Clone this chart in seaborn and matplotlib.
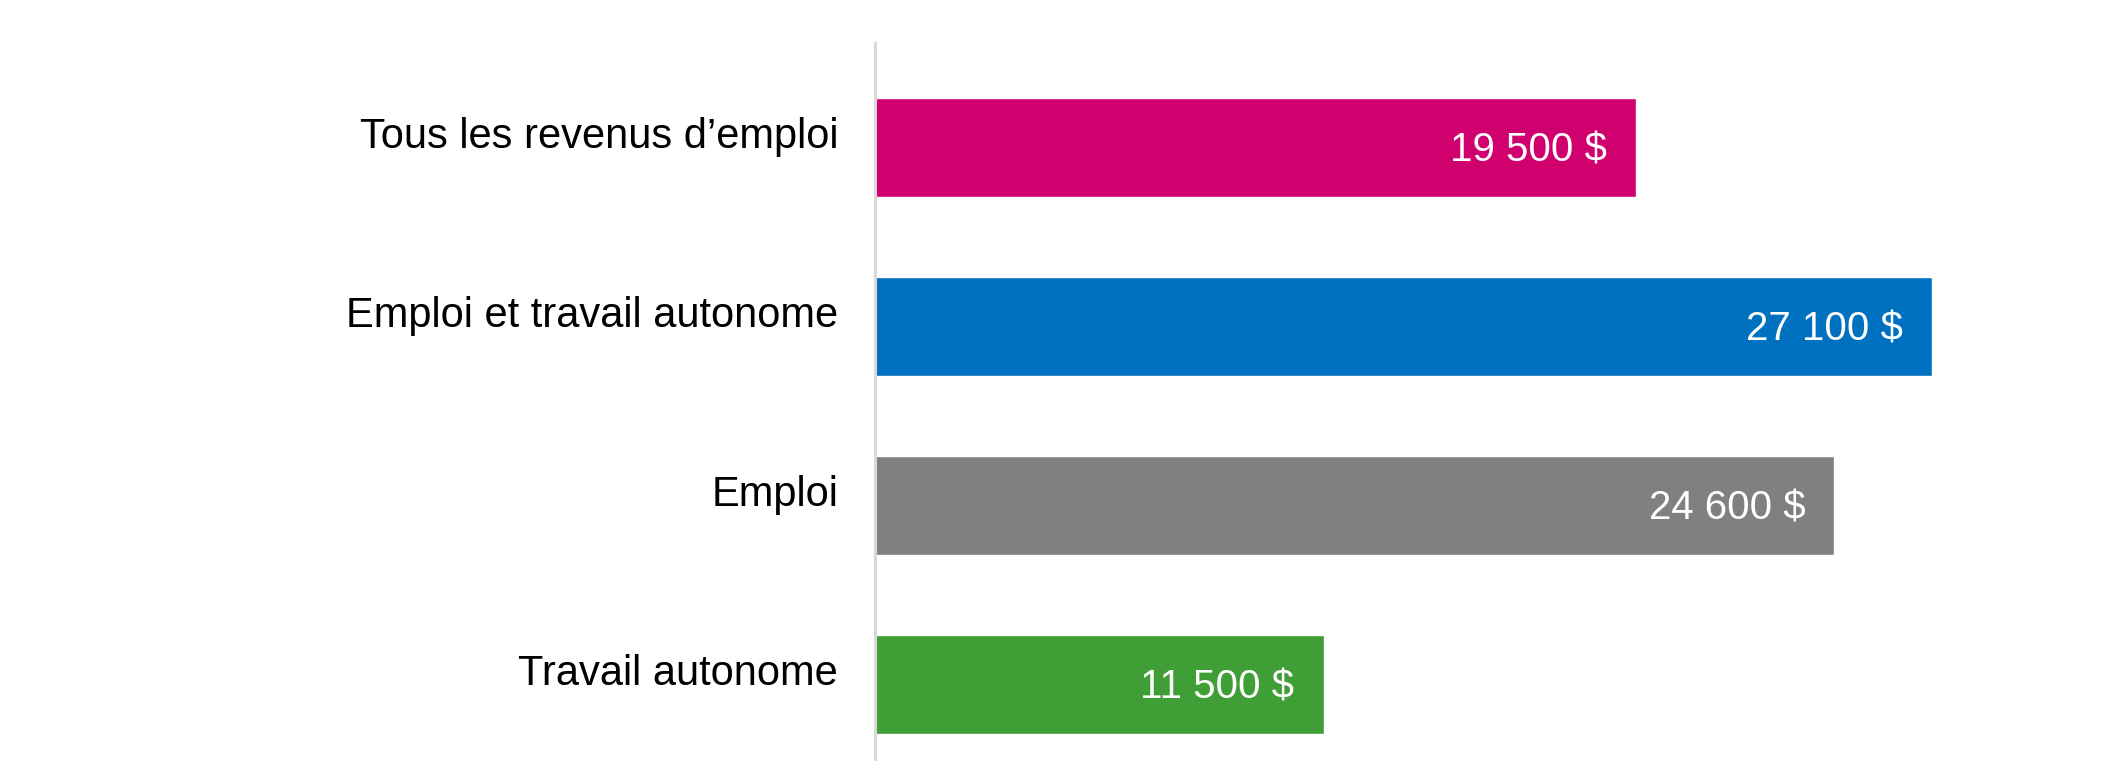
"""
Horizontal bar chart of median employment income by income type.
"""
import pandas as pd
import seaborn as sns
import matplotlib.pyplot as plt

# Data
CATEGORIES = [
    "Tous les revenus d’emploi",
    "Emploi et travail autonome",
    "Emploi",
    "Travail autonome",
]
VALUES = [19500, 27100, 24600, 11500]
COLORS = ["#D0006F", "#0070C0", "#808080", "#3F9E36"]

PLOT_CONFIG = {
    "save_as": "out.png",
    "font": ["Liberation Sans", "DejaVu Sans"],
}

# bars sit slightly below the centre of their category band (Excel style)
BAR_OFFSET = 0.084


def fmt_dollars(v):
    return "{:,}".format(v).replace(",", " ") + " $"


def barplot(df, save=None):
    sns.set_style("white")
    plt.rcParams["font.family"] = PLOT_CONFIG["font"]

    fig = plt.figure(figsize=(21.14, 7.83), dpi=100)
    ax = fig.add_axes([0.4139, 0.0307, 0.5535, 0.9144])

    sns.barplot(
        data=df,
        x="value",
        y="category",
        hue="category",
        palette=COLORS,
        orient="h",
        width=0.553,
        legend=False,
        saturation=1,
        ax=ax,
    )

    ax.set_xlim(0, 30000)
    ax.set_ylim(3.5 - BAR_OFFSET, -0.5 - BAR_OFFSET)
    ax.set_xlabel("")
    ax.set_ylabel("")
    ax.set_xticks([])

    # category labels at the centre of each band
    ax.set_yticks([i - BAR_OFFSET for i in range(len(df))])
    ax.set_yticklabels(df["category"])

    for side in ["top", "right", "bottom"]:
        ax.spines[side].set_visible(False)
    ax.spines["left"].set_color("#D9D9D9")
    ax.spines["left"].set_linewidth(2.2)

    ax.tick_params(axis="y", length=0, pad=26.5, labelsize=30, labelcolor="black")

    # value labels inside bar ends
    for i, v in enumerate(df["value"]):
        ax.annotate(
            fmt_dollars(v),
            xy=(v, i),
            xytext=(-21, -2),
            textcoords="offset points",
            ha="right",
            va="center",
            color="white",
            fontsize=29,
        )

    if save:
        fig.savefig(save, dpi=100)
    else:
        plt.show()


def main():
    df = pd.DataFrame({"category": CATEGORIES, "value": VALUES})
    barplot(df, PLOT_CONFIG["save_as"])


if __name__ == "__main__":
    main()
